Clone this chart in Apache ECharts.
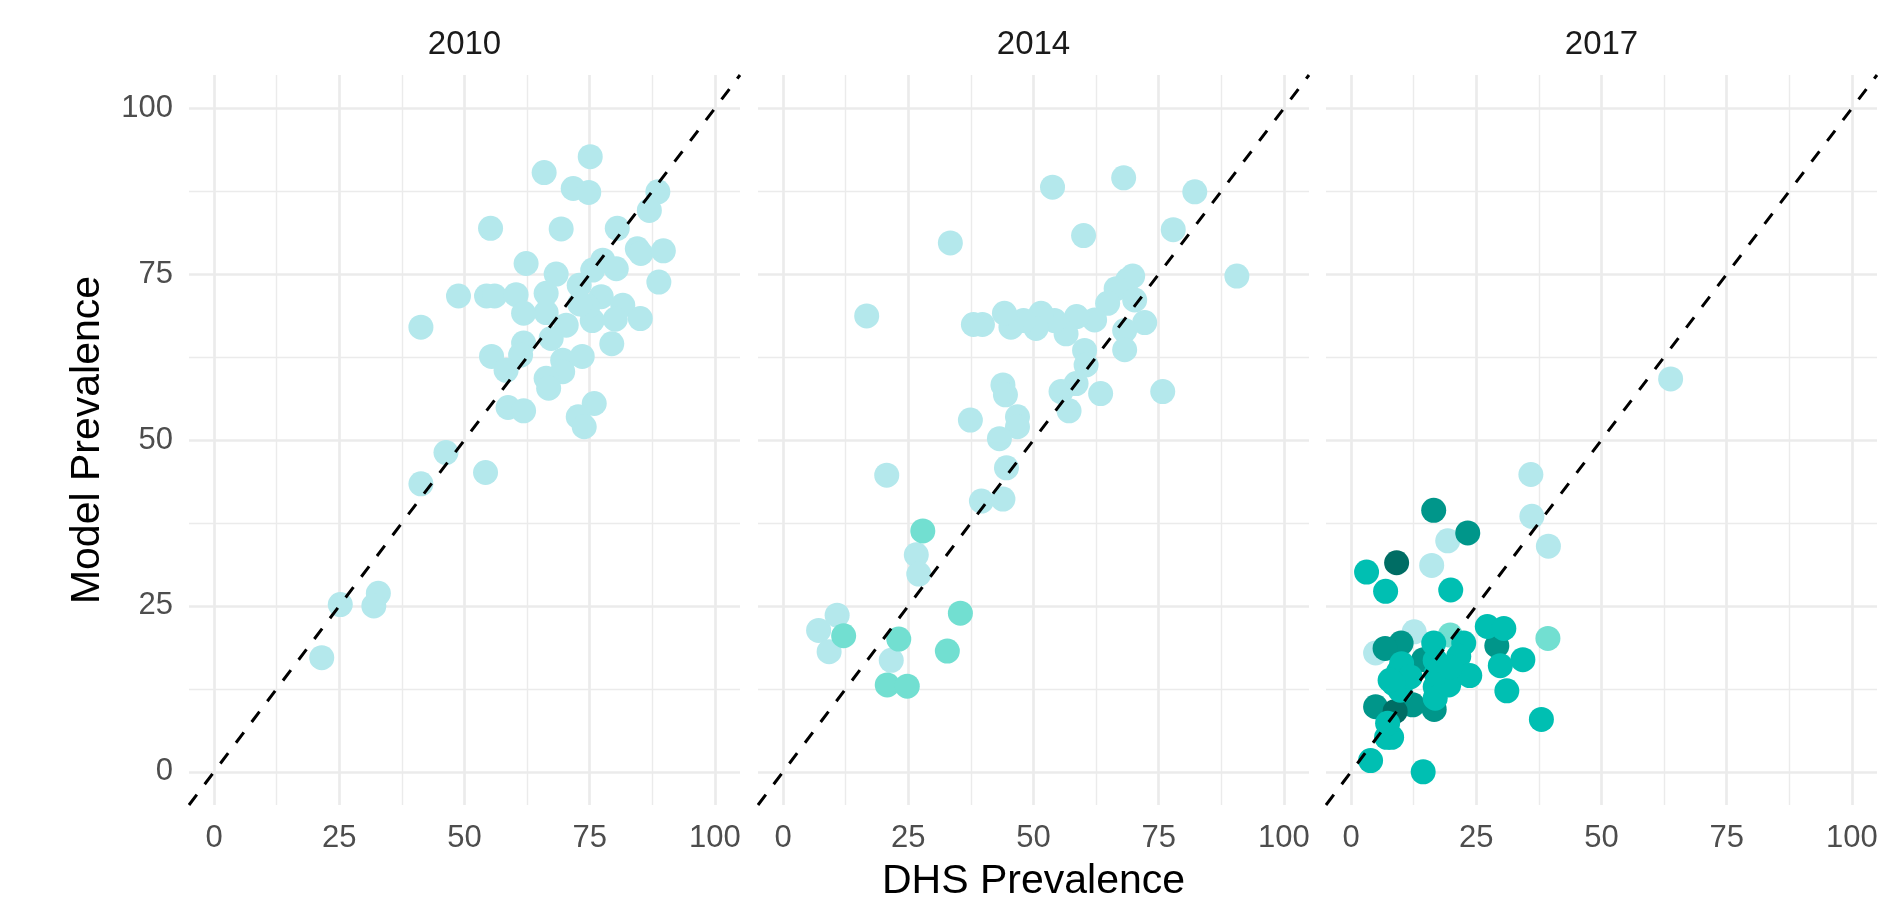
<!DOCTYPE html>
<html>
<head>
<meta charset="utf-8">
<title>Model vs DHS prevalence</title>
<script src="https://cdn.jsdelivr.net/npm/echarts@6/dist/echarts.min.js"></script>
<style>
html, body { margin: 0; padding: 0; background: #fff; }
#main { width: 1901px; height: 900px; }
</style>
</head>
<body>
<div id="main"></div>
<script>
// facet titles and axis ticks
var years = ['2010', '2014', '2017'];
var majorTicks = [0, 25, 50, 75, 100];
var minorTicks = [12.5, 37.5, 62.5, 87.5];
var axisMin = -5, axisMax = 105;

// [DHS prevalence, model prevalence] per panel and colour level
var p2010_light = [[75.1,92.7],[65.9,90.3],[71.7,87.9],[74.8,87.3],[88.6,87.4],[86.9,84.6],[55.2,81.9],[69.3,81.8],
  [80.5,81.9],[84.5,78.8],[85.2,78.1],[89.7,78.5],[62.3,76.6],[68.3,75.0],[77.6,77.1],[80.3,75.8],[75.6,75.6],
  [88.8,73.8],[48.8,71.7],[54.4,71.7],[56.0,71.7],[60.3,71.9],[66.3,72.1],[72.9,73.3],[77.3,71.6],[81.6,70.3],
  [85.1,68.3],[80.1,68.2],[75.5,68.0],[70.3,67.3],[66.3,69.2],[61.8,69.1],[74.6,70.1],[73.0,70.5],[79.4,64.5],
  [61.8,64.6],[67.3,65.3],[55.4,62.6],[61.2,62.8],[58.3,60.5],[69.6,62.0],[73.5,62.6],[69.6,60.3],[66.3,59.3],
  [66.8,57.8],[58.7,54.9],[61.8,54.4],[75.9,55.5],[72.7,53.5],[73.9,52.0],[46.3,48.1],[41.3,43.4],[54.2,45.1],
  [32.8,26.9],[31.9,25.0],[25.2,25.2],[21.5,17.2],[41.3,67.0]];

var p2014_light = [[68.0,89.5],[53.8,88.1],[82.2,87.4],[77.9,81.7],[60.0,80.8],[33.4,79.7],[90.6,74.7],[16.7,68.7],
  [69.8,74.7],[68.8,74.1],[66.5,72.8],[70.2,71.1],[72.2,67.7],[64.8,70.6],[68.2,66.5],[68.2,63.6],[62.2,68.1],
  [58.6,68.6],[56.5,66.0],[60.2,63.5],[60.5,61.3],[54.2,68.0],[51.5,69.1],[50.5,66.8],[48.0,68.0],[45.5,67.0],
  [44.2,69.1],[39.8,67.4],[38.0,67.4],[43.9,58.3],[44.4,56.8],[63.4,57.0],[75.8,57.3],[55.5,57.3],[58.5,58.5],
  [57.1,54.4],[37.4,53.0],[46.8,53.5],[46.8,52.0],[43.2,50.2],[44.6,45.8],[39.6,40.8],[43.9,41.1],[20.7,44.7],
  [26.6,32.7],[27.1,29.8],[10.8,23.6],[7.1,21.3],[9.2,18.1],[21.6,16.8]];
var p2014_mid = [[27.9,36.3],[35.4,23.9],[12.1,20.5],[23.1,20.0],[32.8,18.2],[20.8,13.1],[24.8,12.9]];

var p2017_light = [[35.9,44.8],[36.1,38.5],[39.4,34.0],[19.3,34.8],[16.1,31.1],[4.9,17.9],[12.6,21.1],[63.8,59.2]];
var p2017_mid = [[39.3,20.1],[19.8,20.6]];
var p2017_dark = [[16.5,39.4],[23.3,36.0],[10.0,19.4],[4.9,9.8],[29.1,19.0],[12.3,10.1],[16.6,9.4],[14.5,16.9],[6.8,18.6]];
var p2017_darkest = [[9.1,31.5],[17.1,13.1],[8.8,9.1]];
var p2017_bright = [[3.1,30.1],[6.9,27.2],[19.9,27.4],[27.2,21.9],[30.5,21.6],[34.3,16.9],[29.8,16.0],[31.1,12.2],
  [38.0,7.9],[3.9,1.7],[14.4,0.0],[7.1,5.2],[8.1,5.2],[7.3,7.3],[9.8,12.3],[9.5,15.1],[10.1,16.3],[16.8,12.8],
  [16.8,11.1],[19.5,13.1],[17.0,14.8],[16.8,16.8],[16.5,19.4],[22.5,19.4],[21.5,17.4],[23.7,14.5],[19.8,15.8],
  [11.8,14.3],[8.5,13.3],[7.8,13.8]];

var colors = { light: '#B4E8EC', mid: '#72DFD1', bright: '#00BFB2', dark: '#00968A', darkest: '#006D64' };

var panels = [
  [['light', p2010_light]],
  [['light', p2014_light], ['mid', p2014_mid]],
  [['light', p2017_light], ['mid', p2017_mid], ['dark', p2017_dark], ['darkest', p2017_darkest], ['bright', p2017_bright]]
];

var panelLeft = [189, 758, 1326];
var panelW = 551, panelTop = 75, panelH = 730;
var fontFam = '"Liberation Sans", Arial, Helvetica, sans-serif';

var grids = [], xAxes = [], yAxes = [], series = [], graphics = [];

for (var i = 0; i < 3; i++) {
  grids.push({ left: panelLeft[i], top: panelTop, width: panelW, height: panelH, outerBoundsMode: 'none', containLabel: false });

  // major axis (labels + thick grid) and minor axis (thin grid) on each side
  xAxes.push({
    gridIndex: i, type: 'value', min: axisMin, max: axisMax,
    axisLine: { show: false },
    axisTick: { show: false, customValues: majorTicks },
    axisLabel: { customValues: majorTicks, color: '#4D4D4D', fontSize: 31, margin: 18, fontFamily: fontFam },
    splitLine: { show: true, lineStyle: { color: '#EBEBEB', width: 2.7 } },
    name: i === 1 ? 'DHS Prevalence' : '',
    nameLocation: 'middle', nameGap: 56,
    nameTextStyle: { fontSize: 41, color: '#000', fontFamily: fontFam }
  });
  xAxes.push({
    gridIndex: i, type: 'value', min: axisMin, max: axisMax,
    axisLine: { show: false },
    axisTick: { show: false, customValues: minorTicks },
    axisLabel: { show: false },
    splitLine: { show: true, lineStyle: { color: '#EBEBEB', width: 1.4 } }
  });
  yAxes.push({
    gridIndex: i, type: 'value', min: axisMin, max: axisMax,
    axisLine: { show: false },
    axisTick: { show: false, customValues: majorTicks },
    axisLabel: { show: i === 0, customValues: majorTicks, color: '#4D4D4D', fontSize: 31, margin: 16, fontFamily: fontFam },
    splitLine: { show: true, lineStyle: { color: '#EBEBEB', width: 2.7 } },
    name: i === 0 ? 'Model Prevalence' : '',
    nameLocation: 'middle', nameGap: 81,
    nameTextStyle: { fontSize: 41, color: '#000', fontFamily: fontFam }
  });
  yAxes.push({
    gridIndex: i, type: 'value', min: axisMin, max: axisMax,
    axisLine: { show: false },
    axisTick: { show: false, customValues: minorTicks },
    axisLabel: { show: false },
    splitLine: { show: true, lineStyle: { color: '#EBEBEB', width: 1.4 } }
  });

  panels[i].forEach(function (grp) {
    series.push({
      type: 'scatter', name: years[i] + ' ' + grp[0],
      xAxisIndex: 2 * i, yAxisIndex: 2 * i,
      data: grp[1], symbolSize: 25,
      itemStyle: { color: colors[grp[0]], opacity: 1 },
      silent: true, z: 2
    });
  });

  // 1:1 reference line
  series.push({
    type: 'line', xAxisIndex: 2 * i, yAxisIndex: 2 * i,
    data: [[axisMin, axisMin], [axisMax, axisMax]],
    symbol: 'none', silent: true, z: 5,
    lineStyle: { color: '#000', width: 3, type: [13, 13] }
  });

  graphics.push({
    type: 'text', x: panelLeft[i] + panelW / 2, y: 45,
    style: { text: years[i], fontSize: 33, fontFamily: fontFam, fill: '#1A1A1A', align: 'center', verticalAlign: 'middle' }
  });
}

var chart = echarts.init(document.getElementById('main'));
chart.setOption({
  animation: false,
  backgroundColor: '#fff',
  grid: grids,
  xAxis: xAxes,
  yAxis: yAxes,
  series: series,
  graphic: graphics
});
</script>
</body>
</html>
